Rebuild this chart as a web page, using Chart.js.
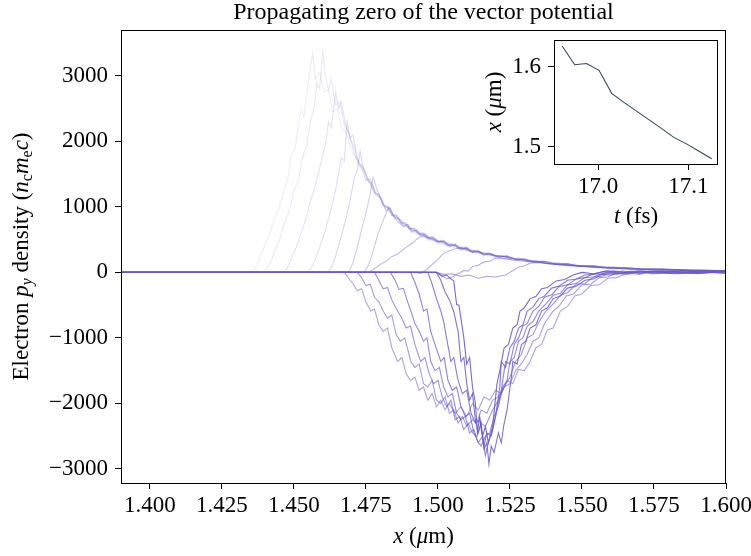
<!DOCTYPE html>
<html>
<head>
<meta charset="utf-8">
<script src="https://cdn.jsdelivr.net/npm/chart.js@4.4.1/dist/chart.umd.min.js"></script>
<style>
  body { margin: 0; background: #fff; }
  #wrap { position: relative; width: 751px; height: 556px; }
  #inset { position: absolute; left: 470px; top: 30px; }
</style>
</head>
<body>
<div id="wrap">
  <canvas id="main" width="751" height="556"></canvas>
  <canvas id="inset" width="270" height="215"></canvas>
</div>
<script>
// tick labels
const xTicks = [1.400, 1.425, 1.450, 1.475, 1.500, 1.525, 1.550, 1.575, 1.600];
const yTicks = [-3000, -2000, -1000, 0, 1000, 2000, 3000];
const insetXTicks = [17.0, 17.1];
const insetYTicks = [1.5, 1.6];

// inset: position of the zero of the vector potential against time
const insetTime = [16.960, 16.974, 16.987, 17.001, 17.015, 17.029, 17.043, 17.057, 17.071, 17.084, 17.099, 17.112, 17.126];
const insetZero = [1.626, 1.6025, 1.604, 1.5955, 1.5666, 1.555, 1.544, 1.533, 1.522, 1.5114, 1.5026, 1.494, 1.4846];

// electron p_y density snapshots, [x (um), value]
const curveA1 = [[1.39,0],[1.4345,0],[1.436,30],[1.4375,150],[1.439,320],[1.4405,480],[1.442,640],[1.4435,850],[1.445,1000],[1.4465,1250],[1.448,1450],[1.449,1770],[1.4505,1900],[1.4515,2250],[1.4525,2480],[1.4535,2380],[1.455,2900],[1.4565,3340],[1.4575,2950],[1.459,3050],[1.4605,2750],[1.462,2800],[1.4635,2450],[1.465,2500],[1.4665,2200],[1.468,2150],
  [1.470,1850],[1.4715,1750],[1.473,1600],[1.4745,1580],[1.476,1380],[1.4775,1320],[1.479,1150],[1.4805,1130],[1.482,930],[1.4835,950],[1.485,800],[1.4865,820],[1.488,680],[1.4895,720],[1.491,600],[1.4925,640],[1.494,540],[1.4955,580],[1.497,480],[1.4985,530],[1.500,430],[1.502,470],[1.504,380],[1.506,420],[1.508,330],[1.510,370],[1.512,290],[1.514,320],[1.516,250],[1.518,290],[1.520,220],[1.523,250],[1.526,180],[1.529,200],[1.532,150],[1.535,170],[1.538,120],[1.542,130],[1.546,90],[1.550,100],[1.555,65],[1.56,75],[1.566,45],[1.572,55],[1.58,30],[1.59,40],[1.6,20]];
const curveA2 = [[1.39,0],[1.4395,0],[1.441,80],[1.4425,220],[1.444,400],[1.4455,560],[1.447,780],[1.4485,950],[1.450,1250],[1.4515,1400],[1.453,1750],[1.4545,1950],[1.456,2350],[1.457,2500],[1.458,2900],[1.459,2800],[1.460,3380],[1.461,3000],[1.462,2800],[1.463,2950],[1.4645,2550],[1.466,2600],[1.4675,2250],[1.469,2150],
  [1.471,1800],[1.4725,1680],[1.474,1580],[1.4755,1400],[1.477,1350],[1.4785,1180],[1.480,1150],[1.4815,980],[1.483,1000],[1.4845,850],[1.486,870],[1.4875,740],[1.489,760],[1.4905,640],[1.492,680],[1.4935,570],[1.495,610],[1.4965,510],[1.498,550],[1.500,460],[1.502,500],[1.504,400],[1.506,440],[1.508,350],[1.510,390],[1.512,300],[1.514,340],[1.516,270],[1.518,300],[1.521,230],[1.524,260],[1.527,190],[1.530,210],[1.533,160],[1.536,175],[1.540,125],[1.544,140],[1.548,95],[1.552,105],[1.557,70],[1.562,80],[1.568,50],[1.575,55],[1.583,30],[1.592,38],[1.6,22]];
const curveA3 = [[1.39,0],[1.4465,0],[1.448,90],[1.4495,250],[1.451,400],[1.4525,600],[1.454,780],[1.4555,1050],[1.457,1250],[1.4585,1500],[1.460,1800],[1.461,1950],[1.462,2300],[1.463,2200],[1.4645,2750],[1.4655,2500],[1.4665,2600],[1.468,2250],[1.4695,2050],[1.471,1900],
  [1.4725,1650],[1.474,1620],[1.4755,1420],[1.477,1380],[1.4785,1200],[1.480,1150],[1.4815,1020],[1.483,970],[1.4845,880],[1.486,820],[1.4875,790],[1.489,700],[1.4905,690],[1.492,610],[1.4935,620],[1.495,540],[1.4965,560],[1.498,480],[1.4995,510],[1.5015,430],[1.5035,460],[1.5055,380],[1.5075,410],[1.5095,330],[1.5115,360],[1.5135,290],[1.5155,310],[1.5175,250],[1.520,270],[1.523,210],[1.526,230],[1.529,180],[1.532,190],[1.535,145],[1.539,160],[1.543,115],[1.547,125],[1.551,90],[1.556,95],[1.561,65],[1.567,70],[1.574,45],[1.582,50],[1.591,28],[1.6,30]];
const curveA4 = [[1.39,0],[1.455,0],[1.4565,100],[1.458,260],[1.4595,450],[1.461,650],[1.4625,900],[1.464,1150],[1.4655,1500],[1.4665,1750],[1.4675,1700],[1.4685,2300],[1.4695,2050],[1.4705,2100],[1.472,1750],[1.4735,1600],
  [1.475,1400],[1.4765,1430],[1.478,1220],[1.4795,1180],[1.481,1020],[1.4825,1000],[1.484,870],[1.4855,860],[1.487,760],[1.4885,740],[1.490,660],[1.4915,670],[1.493,580],[1.4945,600],[1.496,520],[1.4975,550],[1.499,470],[1.501,490],[1.503,410],[1.505,440],[1.507,360],[1.509,390],[1.511,320],[1.513,340],[1.515,280],[1.517,300],[1.5195,240],[1.522,260],[1.525,200],[1.528,220],[1.531,165],[1.534,180],[1.538,135],[1.542,145],[1.546,105],[1.550,110],[1.555,80],[1.56,85],[1.566,55],[1.573,60],[1.581,38],[1.59,42],[1.6,25]];
const curveA5 = [[1.39,0],[1.462,0],[1.4635,120],[1.465,320],[1.4665,560],[1.468,800],[1.4695,1100],[1.471,1450],[1.472,1550],[1.473,1850],[1.474,1600],[1.475,1500],[1.4765,1350],
  [1.478,1200],[1.4795,1200],[1.481,1020],[1.4825,1010],[1.484,870],[1.4855,880],[1.487,760],[1.4885,760],[1.490,660],[1.4915,680],[1.493,590],[1.4945,600],[1.496,530],[1.4975,540],[1.499,480],[1.501,470],[1.503,420],[1.505,430],[1.507,370],[1.509,380],[1.511,320],[1.513,330],[1.515,280],[1.5175,290],[1.520,245],[1.5225,250],[1.525,210],[1.528,215],[1.531,170],[1.534,175],[1.538,135],[1.542,140],[1.546,105],[1.551,105],[1.556,78],[1.561,80],[1.567,52],[1.574,58],[1.582,35],[1.591,40],[1.6,22]];
const curveA6 = [[1.39,0],[1.469,0],[1.4705,140],[1.472,380],[1.4735,650],[1.475,900],[1.4765,1200],[1.4775,1450],[1.479,1250],[1.4805,1100],
  [1.482,950],[1.4835,980],[1.485,830],[1.4865,830],[1.488,720],[1.4895,730],[1.491,640],[1.4925,650],[1.494,570],[1.4955,580],[1.497,510],[1.4985,520],[1.500,460],[1.502,470],[1.504,400],[1.506,420],[1.508,350],[1.510,370],[1.512,310],[1.514,320],[1.516,270],[1.518,290],[1.521,240],[1.524,245],[1.527,200],[1.530,200],[1.533,160],[1.537,165],[1.541,125],[1.545,130],[1.549,95],[1.554,100],[1.559,70],[1.565,72],[1.571,48],[1.578,50],[1.587,30],[1.6,25]];
const curveA7 = [[1.39,0],[1.4745,0],[1.476,120],[1.4775,320],[1.479,560],[1.4805,740],[1.482,900],[1.483,1000],[1.4845,880],[1.486,780],
  [1.488,700],[1.4895,730],[1.491,620],[1.4925,650],[1.494,570],[1.4955,590],[1.497,510],[1.4985,540],[1.500,460],[1.502,490],[1.504,400],[1.506,430],[1.508,350],[1.510,380],[1.512,310],[1.514,330],[1.516,270],[1.518,290],[1.521,235],[1.524,250],[1.527,195],[1.530,205],[1.533,160],[1.537,170],[1.541,125],[1.545,135],[1.549,95],[1.554,100],[1.559,68],[1.565,75],[1.571,48],[1.578,52],[1.587,30],[1.6,22]];
const curveM1 = [[1.39,0],[1.476,0],[1.478,60],[1.480,120],[1.482,170],[1.484,240],[1.486,280],[1.488,350],[1.4895,400],[1.4915,460],[1.493,520],[1.495,560],[1.497,520],
  [1.500,480],[1.502,470],[1.504,420],[1.506,410],[1.508,360],[1.510,370],[1.512,310],[1.514,320],[1.516,270],[1.518,285],[1.521,235],[1.524,245],[1.527,195],[1.530,205],[1.533,160],[1.537,170],[1.541,125],[1.545,130],[1.549,95],[1.554,100],[1.559,70],[1.565,72],[1.571,48],[1.578,50],[1.587,30],[1.6,25]];
const curveM2 = [[1.39,0],[1.4925,0],[1.494,-20],[1.496,40],[1.498,120],[1.500,200],[1.502,290],[1.504,330],[1.506,360],[1.508,380],
  [1.511,330],[1.514,320],[1.518,270],[1.522,250],[1.527,200],[1.532,180],[1.538,140],[1.545,115],[1.553,85],[1.562,60],[1.572,45],[1.585,30],[1.6,20]];
const curveM3 = [[1.39,0],[1.4995,0],[1.5015,-50],[1.503,-100],[1.5045,-80],[1.506,-40],[1.5075,-10],[1.509,30],[1.5105,20],[1.512,90],[1.514,110],[1.516,160],[1.518,170],[1.52,220],[1.523,210],[1.526,190],[1.53,170],[1.535,150],[1.541,120],[1.548,100],[1.556,75],[1.565,55],[1.575,40],[1.587,28],[1.6,20]];
const curveM4 = [[1.39,0],[1.4995,0],[1.502,-30],[1.505,-20],[1.508,-60],[1.511,-40],[1.514,-90],[1.517,-60],[1.52,-70],[1.5235,-40],[1.525,0],[1.5265,40],[1.528,80],[1.53,100],[1.532,140],[1.535,150],[1.539,130],[1.544,110],[1.55,90],[1.557,70],[1.565,55],[1.575,40],[1.587,30],[1.6,20]];
const curveB1 = [[1.39,0],[1.4675,0],[1.469,-90],[1.4705,-170],[1.472,-280],[1.4735,-250],[1.475,-450],[1.4767,-590],[1.478,-560],[1.4795,-800],[1.481,-900],[1.4825,-850],[1.484,-1150],[1.486,-1360],[1.4875,-1300],[1.489,-1550],[1.4905,-1650],[1.492,-1600],[1.4935,-1800],[1.495,-1750],[1.4965,-1950],[1.498,-1850],[1.4995,-2050],[1.501,-1950],[1.5025,-2100],[1.504,-2000],[1.506,-2150],[1.508,-2050],[1.510,-2200],[1.512,-2000],[1.514,-2100],[1.516,-1900],[1.518,-1950],[1.520,-1800],
  [1.522,-1850],[1.524,-1650],[1.526,-1700],[1.528,-1480],[1.530,-1500],[1.532,-1360],[1.534,-1150],[1.536,-1100],[1.538,-880],[1.540,-850],[1.5425,-590],[1.545,-520],[1.5475,-360],[1.550,-330],[1.553,-200],[1.556,-190],[1.559,-90],[1.562,-80],[1.566,-10],[1.570,-30],[1.575,20],[1.582,-20],[1.59,20],[1.6,-10]];
const curveB2 = [[1.39,0],[1.472,0],[1.4735,-80],[1.475,-200],[1.4765,-180],[1.478,-380],[1.4795,-450],[1.481,-590],[1.4825,-700],[1.484,-650],[1.4855,-950],[1.487,-1050],[1.4885,-1000],[1.4906,-1360],[1.492,-1450],[1.4935,-1400],[1.495,-1700],[1.4965,-1750],[1.498,-1650],[1.4995,-1950],[1.501,-2000],[1.5025,-1900],[1.504,-2150],[1.5055,-2100],[1.507,-2300],[1.5085,-2200],[1.510,-2350],[1.512,-2250],[1.5135,-2300],[1.515,-2100],[1.517,-2150],[1.519,-1950],[1.521,-1900],
  [1.523,-1750],[1.525,-1700],[1.527,-1500],[1.5295,-1360],[1.531,-1250],[1.533,-1050],[1.535,-1000],[1.537,-780],[1.540,-590],[1.542,-520],[1.5445,-360],[1.547,-330],[1.550,-190],[1.553,-180],[1.556,-80],[1.559,-70],[1.562,-10],[1.566,-30],[1.571,20],[1.577,-15],[1.585,25],[1.6,-15]];
const curveB3 = [[1.39,0],[1.478,0],[1.4795,-120],[1.481,-250],[1.4825,-230],[1.484,-420],[1.486,-590],[1.4875,-700],[1.489,-850],[1.4905,-820],[1.492,-1100],[1.494,-1360],[1.4955,-1300],[1.497,-1550],[1.4985,-1700],[1.500,-1650],[1.5015,-1900],[1.503,-2050],[1.5045,-1950],[1.506,-2250],[1.5075,-2200],[1.509,-2400],[1.5105,-2300],[1.512,-2450],[1.5135,-2500],[1.515,-2300],[1.5165,-2350],[1.519,-2100],
  [1.521,-1950],[1.523,-1750],[1.525,-1600],[1.527,-1360],[1.529,-1250],[1.531,-1000],[1.533,-950],[1.535,-760],[1.5375,-590],[1.540,-480],[1.5425,-350],[1.545,-310],[1.548,-180],[1.551,-170],[1.554,-70],[1.557,-60],[1.560,0],[1.564,-25],[1.569,20],[1.575,-20],[1.585,20],[1.6,-10]];
const curveB4 = [[1.39,0],[1.4835,0],[1.485,-110],[1.4865,-260],[1.488,-240],[1.4895,-450],[1.4906,-590],[1.492,-780],[1.4935,-900],[1.495,-1050],[1.4962,-1000],[1.4975,-1360],[1.499,-1500],[1.5005,-1450],[1.502,-1750],[1.5035,-1900],[1.505,-1850],[1.5065,-2150],[1.508,-2250],[1.5095,-2200],[1.511,-2450],[1.5125,-2400],[1.514,-2600],[1.515,-2650],[1.5165,-2500],[1.518,-2450],
  [1.5195,-2200],[1.521,-2050],[1.5225,-1750],[1.524,-1650],[1.525,-1360],[1.5265,-1300],[1.528,-1050],[1.5295,-1000],[1.531,-820],[1.533,-750],[1.535,-590],[1.5375,-480],[1.540,-350],[1.5425,-320],[1.545,-190],[1.548,-170],[1.551,-80],[1.554,-70],[1.558,0],[1.562,-30],[1.567,20],[1.574,-15],[1.584,20],[1.6,-5]];
const curveB5 = [[1.39,0],[1.4905,0],[1.492,-150],[1.4935,-330],[1.495,-590],[1.4962,-560],[1.4975,-900],[1.499,-1100],[1.501,-1360],[1.5022,-1300],[1.5035,-1650],[1.505,-1800],[1.5065,-1750],[1.508,-2050],[1.5095,-2200],[1.511,-2150],[1.5125,-2450],[1.514,-2600],[1.5155,-2500],[1.5165,-2800],[1.5175,-2600],
  [1.519,-2400],[1.5205,-2100],[1.522,-1800],[1.5235,-1360],[1.525,-1400],[1.5265,-1100],[1.528,-1000],[1.5295,-820],[1.531,-780],[1.533,-590],[1.535,-520],[1.537,-380],[1.5395,-340],[1.542,-220],[1.545,-190],[1.548,-100],[1.551,-80],[1.554,-20],[1.557,-30],[1.561,25],[1.566,-10],[1.573,20],[1.583,-20],[1.6,15]];
const curveB6 = [[1.39,0],[1.4965,0],[1.498,-180],[1.4995,-400],[1.501,-590],[1.502,-750],[1.503,-1000],[1.5045,-1360],[1.5055,-1300],[1.507,-1650],[1.5085,-1850],[1.510,-1800],[1.5115,-2150],[1.513,-2300],[1.5145,-2250],[1.516,-2650],[1.517,-2450],[1.5185,-2500],
  [1.520,-2200],[1.5215,-1750],[1.522,-1360],[1.5235,-1450],[1.525,-1150],[1.5265,-1050],[1.528,-850],[1.5295,-800],[1.531,-590],[1.533,-530],[1.535,-400],[1.537,-360],[1.5395,-240],[1.542,-210],[1.545,-120],[1.548,-100],[1.551,-40],[1.554,-30],[1.558,20],[1.563,-15],[1.57,25],[1.58,-15],[1.6,20]];
const curveB7 = [[1.39,0],[1.4995,0],[1.501,-120],[1.5025,-300],[1.504,-420],[1.5055,-600],[1.507,-900],[1.508,-1360],[1.509,-1300],[1.510,-1700],[1.511,-1950],[1.512,-1850],[1.513,-2250],[1.514,-2450],[1.515,-2300],[1.516,-2700],[1.517,-2600],[1.5177,-2925],[1.5185,-2650],[1.5195,-2750],[1.521,-2450],[1.522,-2600],[1.5228,-2350],
  [1.524,-2100],[1.5255,-1600],[1.526,-1360],[1.5275,-1400],[1.529,-1100],[1.5305,-1050],[1.532,-850],[1.534,-800],[1.536,-590],[1.538,-540],[1.540,-400],[1.5425,-360],[1.545,-240],[1.548,-210],[1.551,-120],[1.554,-100],[1.557,-30],[1.560,-40],[1.564,20],[1.57,-15],[1.578,25],[1.59,-15],[1.6,15]];
const curveB8 = [[1.39,0],[1.4995,0],[1.5015,-60],[1.503,-40],[1.5045,-100],[1.5055,-130],[1.5065,-490],[1.5073,-500],[1.509,-1000],[1.510,-1400],[1.511,-1300],[1.512,-1750],[1.513,-2000],[1.5137,-2440],[1.5145,-2200],[1.5155,-2500],[1.5165,-2350],[1.5175,-2600],
  [1.519,-2350],[1.5205,-1700],[1.5215,-1500],[1.523,-1150],[1.5245,-1100],[1.526,-850],[1.5275,-800],[1.5285,-590],[1.530,-540],[1.532,-400],[1.534,-370],[1.536,-250],[1.538,-230],[1.541,-130],[1.544,-110],[1.547,-40],[1.550,0],[1.554,-20],[1.559,25],[1.566,-10],[1.575,20],[1.59,-15],[1.6,15]];

const curves = [curveA1, curveA2, curveA3, curveA4, curveA5, curveA6, curveA7, curveM1, curveM2, curveM3, curveM4,
                curveB1, curveB2, curveB3, curveB4, curveB5, curveB6, curveB7, curveB8];
const curveAlpha = [0.12, 0.15, 0.18, 0.21, 0.25, 0.3, 0.35, 0.4, 0.45, 0.5, 0.55,
                    0.55, 0.6, 0.65, 0.7, 0.75, 0.8, 0.85, 0.9];

const SERIF = "'Liberation Serif', 'DejaVu Serif', serif";
const FS = 23;

// draws text made of pieces (italic / subscript), centred on x,y
function richText(ctx, parts, x, y, size, rotate) {
  ctx.save();
  ctx.translate(x, y);
  if (rotate) ctx.rotate(-Math.PI / 2);
  ctx.fillStyle = '#000';
  ctx.textBaseline = 'middle';
  const fontOf = p => (p.i ? 'italic ' : '') + (p.s ? Math.round(size * 0.7) : size) + 'px ' + SERIF;
  let total = 0;
  parts.forEach(p => { ctx.font = fontOf(p); total += ctx.measureText(p.t).width; });
  let cx = -total / 2;
  parts.forEach(p => {
    ctx.font = fontOf(p);
    ctx.textAlign = 'left';
    ctx.fillText(p.t, cx, p.s ? size * 0.25 : 0);
    cx += ctx.measureText(p.t).width;
  });
  ctx.restore();
}

const fmtMinus = v => (v < 0 ? '\u2212' + Math.abs(v) : String(v));
const noPad = s => { s.paddingTop = 0; s.paddingBottom = 0; s.paddingLeft = 0; s.paddingRight = 0; };

const mainDeco = {
  id: 'mainDeco',
  afterDraw(chart) {
    const {ctx, chartArea: a} = chart;
    ctx.save();
    ctx.strokeStyle = '#000';
    ctx.lineWidth = 1;
    ctx.strokeRect(a.left + 0.5, a.top + 0.5, a.right - a.left - 1, a.bottom - a.top);
    ctx.restore();
    const cx = (a.left + a.right) / 2;
    richText(ctx, [{t: 'Propagating zero of the vector potential'}], cx, 13, 24);
    richText(ctx, [{t: 'x', i: 1}, {t: ' ('}, {t: '\u03bc', i: 1}, {t: 'm)'}], cx, 537, FS);
    richText(ctx, [{t: 'Electron '}, {t: 'p', i: 1}, {t: 'y', i: 1, s: 1}, {t: ' density ('},
                   {t: 'n', i: 1}, {t: 'c', s: 1}, {t: 'm', i: 1}, {t: 'e', s: 1}, {t: 'c', i: 1}, {t: ')'}],
             22, (a.top + a.bottom) / 2, FS, true);
  }
};

const datasets = curves.map((c, k) => ({
  data: c.map(p => ({x: p[0], y: p[1]})),
  borderColor: 'rgba(106, 90, 205, ' + curveAlpha[k] + ')',
  borderWidth: 1.1,
  pointRadius: 0,
  tension: 0,
  fill: false
}));

const tickGrid = {display: true, drawOnChartArea: false, drawTicks: true, tickLength: 6, tickColor: '#000'};

new Chart(document.getElementById('main'), {
  type: 'line',
  data: {datasets},
  options: {
    responsive: false,
    animation: false,
    devicePixelRatio: 1,
    layout: {padding: {left: 0, right: 25, top: 30, bottom: 0}},
    plugins: {legend: {display: false}, tooltip: {enabled: false}, title: {display: false}},
    scales: {
      x: {
        type: 'linear', min: 1.39, max: 1.60,
        afterBuildTicks: s => { s.ticks = xTicks.map(v => ({value: v})); },
        afterFit: s => { s.height = 73; noPad(s); },
        ticks: {color: '#000', font: {family: SERIF, size: FS}, padding: 3, maxRotation: 0, autoSkip: false,
                callback: v => v.toFixed(3)},
        grid: tickGrid,
        border: {display: false}
      },
      y: {
        type: 'linear', min: -3215, max: 3700,
        afterBuildTicks: s => { s.ticks = yTicks.map(v => ({value: v})); },
        afterFit: s => { s.width = 121; noPad(s); },
        ticks: {color: '#000', font: {family: SERIF, size: FS}, padding: 7, callback: fmtMinus},
        grid: tickGrid,
        border: {display: false}
      }
    }
  },
  plugins: [mainDeco]
});

const insetDeco = {
  id: 'insetDeco',
  beforeDraw(chart) {
    const {ctx, chartArea: a} = chart;
    ctx.save();
    ctx.fillStyle = '#fff';
    ctx.fillRect(a.left, a.top, a.right - a.left, a.bottom - a.top);
    ctx.restore();
  },
  afterDraw(chart) {
    const {ctx, chartArea: a} = chart;
    ctx.save();
    ctx.strokeStyle = '#000';
    ctx.lineWidth = 1;
    ctx.strokeRect(a.left + 0.5, a.top + 0.5, a.right - a.left - 1, a.bottom - a.top);
    ctx.restore();
    richText(ctx, [{t: 't', i: 1}, {t: ' (fs)'}], (a.left + a.right) / 2, 187, FS);
    richText(ctx, [{t: 'x', i: 1}, {t: ' ('}, {t: '\u03bc', i: 1}, {t: 'm)'}], 25, (a.top + a.bottom) / 2, FS, true);
  }
};

new Chart(document.getElementById('inset'), {
  type: 'line',
  data: {
    datasets: [{
      data: insetTime.map((t, k) => ({x: t, y: insetZero[k]})),
      borderColor: '#2f4b5c',
      borderWidth: 1.1,
      pointRadius: 0,
      tension: 0,
      fill: false
    }]
  },
  options: {
    responsive: false,
    animation: false,
    devicePixelRatio: 1,
    layout: {padding: {left: 0, right: 22, top: 10, bottom: 0}},
    plugins: {legend: {display: false}, tooltip: {enabled: false}},
    scales: {
      x: {
        type: 'linear', min: 16.951, max: 17.133,
        afterBuildTicks: s => { s.ticks = insetXTicks.map(v => ({value: v})); },
        afterFit: s => { s.height = 81; noPad(s); },
        ticks: {color: '#000', font: {family: SERIF, size: FS}, padding: 3, maxRotation: 0, autoSkip: false,
                callback: v => v.toFixed(1)},
        grid: tickGrid,
        border: {display: false}
      },
      y: {
        type: 'linear', min: 1.478, max: 1.6335,
        afterBuildTicks: s => { s.ticks = insetYTicks.map(v => ({value: v})); },
        afterFit: s => { s.width = 84; noPad(s); },
        ticks: {color: '#000', font: {family: SERIF, size: FS}, padding: 7, callback: v => v.toFixed(1)},
        grid: tickGrid,
        border: {display: false}
      }
    }
  },
  plugins: [insetDeco]
});
</script>
</body>
</html>
